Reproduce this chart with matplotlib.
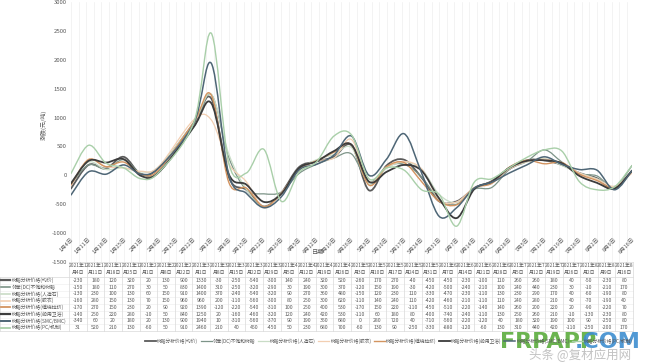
import matplotlib
matplotlib.use('Agg')
import matplotlib.pyplot as plt
from matplotlib.path import Path
from matplotlib.patches import PathPatch
from matplotlib.lines import Line2D
import numpy as np
import datetime as dt

plt.rcParams['font.family'] = ['Noto Sans CJK SC', 'DejaVu Sans']

# ---------------- data ----------------
dates = ["2021年1月4日", "2021年1月11日", "2021年1月18日", "2021年1月25日",
         "2021年2月1日", "2021年2月8日", "2021年2月22日", "2021年3月1日",
         "2021年3月8日", "2021年3月15日", "2021年3月22日", "2021年3月29日",
         "2021年4月5日", "2021年4月12日", "2021年4月19日", "2021年4月26日",
         "2021年5月3日", "2021年5月10日", "2021年5月17日", "2021年5月24日",
         "2021年5月31日", "2021年6月7日", "2021年6月14日", "2021年6月21日",
         "2021年6月28日", "2021年7月5日", "2021年7月12日", "2021年7月19日",
         "2021年7月26日", "2021年8月2日", "2021年8月9日", "2021年8月16日"]

series_names = ["树脂分析价格(均价)", "邻苯(DC)不饱和树脂", "树脂分析价格(人造石)",
                "树脂分析价格(胶衣)", "树脂分析价格(缠绕拉挤)", "树脂分析价格(船用卫浴)",
                "树脂分析价格(SMC/BMC)", "树脂分析价格(PC/机制)"]

s1 = [-230, 180, 120, 320, 20, 130, 900, 1330, -30, -250, -540, -300, 140, 240, 320, 520,
      -260, 170, 270, -40, -450, -450, -230, -100, 110, 260, 260, 180, 40, -50, -230, 80]
s2 = [-150, 180, 110, 270, 30, 50, 830, 1400, 310, -250, -320, -290, 30, 190, 300, 370,
      -120, 150, 190, -30, -420, -500, -240, -210, 100, 240, 440, 230, 30, -10, -210, 170]
s3 = [-130, 230, 100, 130, 60, 150, 910, 1400, 370, -240, -540, -320, 90, 270, 360, 480,
      -150, 120, 230, 110, -330, -470, -230, -110, 130, 230, 290, 170, 40, -60, -190, 80]
s4 = [-160, 280, 150, 130, 70, 150, 960, 960, 200, -110, -560, -300, 80, 250, 300, 620,
      -110, 140, 240, 110, -420, -460, -210, -110, 110, 240, 280, 210, 40, -70, -190, 40]
s5 = [-170, 270, 150, 230, 20, 90, 920, 1390, -120, -220, -540, -310, 100, 250, 400, 530,
      -170, 150, 220, -110, -450, -510, -220, -140, 140, 260, 200, 220, 20, -90, -220, 70]
s6 = [-140, 250, 220, 280, -10, 50, 840, 1250, 20, -160, -460, -320, 120, 240, 420, 530,
      -110, 60, 180, 80, -400, -740, -240, -110, 130, 250, 260, 210, -10, -130, -230, 80]
s7 = [-340, 60, 20, 180, 20, 130, 900, 1940, 10, -310, -560, -370, 90, 190, 350, 680,
      0, 280, 720, 40, -710, -560, -220, -120, 40, 180, 320, 190, 100, 90, -250, 80]
s8 = [31, 520, 210, 130, -60, 50, 910, 2460, 210, 40, 450, -450, 50, 230, 680, 700,
      -60, 130, 90, -250, -330, -880, -120, -60, 130, 310, 440, 420, -110, -250, -200, 170]
series = [s1, s2, s3, s4, s5, s6, s7, s8]

y_ticks = [3000, 2500, 2000, 1500, 1000, 500, 0, -500, -1000, -1500]
y_title = "涨跌(元/吨)"
x_title = "日期"

# ---------------- style ----------------
colors = ['#5b5b5b', '#7d9488', '#c9dcc6', '#f2cfb2', '#d39460', '#3c3c3c', '#4e6676', '#a9cfa9']
widths = [1.3, 0.9, 0.9, 0.9, 1.0, 1.3, 1.1, 1.0]
txt = '#595959'


def parse(d):
    y, rest = d.split('年')
    m, dd = rest.rstrip('日').split('月')
    return dt.date(int(y), int(m), int(dd))


day0 = parse(dates[0])
xs = np.array([(parse(d) - day0).days for d in dates], dtype=float)

W, H = 657, 364
fig = plt.figure(figsize=(W / 100, H / 100), dpi=100)
L, R, T, B = 71, 632, 2, 262
ax = fig.add_axes([L / W, 1 - B / H, (R - L) / W, (B - T) / H])
ax.set_xlim(xs[0], xs[-1])
ax.set_ylim(-1500, 3000)
for sp in ax.spines.values():
    sp.set_visible(False)
ax.set_xticks([])
ax.set_yticks(y_ticks)
ax.set_yticklabels([str(v) for v in y_ticks])
ax.tick_params(axis='y', length=0, pad=3, labelsize=4.3, labelcolor=txt)

# faint vertical gridlines (date axis)
for g in np.arange(xs[0], xs[-1] + 1e-9, 3):
    ax.axvline(g, color='#efefef', lw=0.5, zorder=0)


def smooth_path(x, y):
    pts = np.column_stack([x, y]).astype(float)
    verts = [pts[0]]
    codes = [Path.MOVETO]
    for i in range(len(pts) - 1):
        p0 = pts[i - 1] if i > 0 else pts[i]
        p1 = pts[i]
        p2 = pts[i + 1]
        p3 = pts[i + 2] if i + 2 < len(pts) else pts[i + 1]
        verts += [p1 + (p2 - p0) / 6, p2 - (p3 - p1) / 6, p2]
        codes += [Path.CURVE4] * 3
    return Path(verts, codes)


handles = []
for k, s in enumerate(series):
    pp = PathPatch(smooth_path(xs, s), fill=False, edgecolor=colors[k], lw=widths[k],
                   zorder=2 + k, capstyle='round', joinstyle='round')
    ax.add_patch(pp)
    handles.append(Line2D([], [], color=colors[k], lw=widths[k]))

# weekly date-axis labels inside the plot, rotated
for t in np.arange(xs[0], xs[-1] + 1e-9, 7):
    d = day0 + dt.timedelta(days=int(t))
    ax.text(t, -1070, f"{d.month}月{d.day}日", rotation=45, ha='right', va='top',
            rotation_mode='anchor', fontsize=4, color=txt)

fig.text(318 / W, 1 - 252 / H, x_title, fontsize=4.3, color=txt, ha='center', va='center')
fig.text(44 / W, 1 - 125 / H, y_title, fontsize=4.3, color=txt, ha='center', va='center',
         rotation=90)

# ---------------- data table ----------------
n = len(dates)
fa = fig.add_axes([0, 0, 1, 1], facecolor='none')
fa.set_xlim(0, W)
fa.set_ylim(H, 0)
fa.axis('off')
tx0, tx1 = 69, 633
cw = (tx1 - tx0) / n
hy0, hy1 = 262, 277
rh = 6.75
ty1 = hy1 + rh * len(series)
lc = '#d9d9d9'
fa.plot([tx0, tx1], [hy0, hy0], color=lc, lw=0.5)
fa.plot([0, tx1], [hy1, hy1], color=lc, lw=0.5)
fa.plot([0, tx1], [ty1, ty1], color=lc, lw=0.5)
for r in range(1, len(series)):
    fa.plot([0, tx1], [hy1 + r * rh] * 2, color='#ececec', lw=0.4)
for c in range(n + 1):
    fa.plot([tx0 + c * cw] * 2, [hy0, ty1], color=lc, lw=0.5)
fa.plot([0, 0], [hy1, ty1], color=lc, lw=0.5)

for c, d in enumerate(dates):
    cx = tx0 + (c + 0.5) * cw
    yr, rest = d.split('年')
    m, dd = rest.split('月')
    fa.text(cx, hy0 + 3.8, yr + '年' + m, fontsize=3.5, color=txt, ha='center', va='center')
    fa.text(cx, hy0 + 10.8, '月' + dd, fontsize=3.5, color=txt, ha='center', va='center')

for r, s in enumerate(series):
    cy = hy1 + (r + 0.5) * rh
    fa.plot([1, 10], [cy, cy], color=colors[r], lw=widths[r] + 0.3)
    fa.text(11.5, cy, series_names[r], fontsize=3.5, color=txt, ha='left', va='center')
    for c, v in enumerate(s):
        cx = tx0 + (c + 0.5) * cw
        fa.text(cx, cy, str(v), fontsize=3.7, color=txt, ha='center', va='center')

# legend
fig.legend(handles, series_names, loc='center left', bbox_to_anchor=(145 / W, 1 - 341 / H),
           ncol=8, fontsize=3.4, frameon=False, handlelength=2.3, handletextpad=0.3,
           columnspacing=0.5, labelcolor=txt, borderaxespad=0, borderpad=0)

# watermark
fig.text(500 / W, 1 - 342 / H, "FRPAPP", fontsize=16, fontweight='bold', color='#63b046',
         ha='left', va='center', family=['DejaVu Sans'], alpha=0.95)
fig.text(575 / W, 1 - 342 / H, ".COM", fontsize=16, fontweight='bold', color='#3e8ed0',
         ha='left', va='center', family=['DejaVu Sans'], alpha=0.9)
fig.text(580 / W, 1 - 354 / H, "头条 @复材应用网", fontsize=9, color='#9a9a9a',
         ha='center', va='center', alpha=0.6)

fig.savefig('out.png', dpi=100)
